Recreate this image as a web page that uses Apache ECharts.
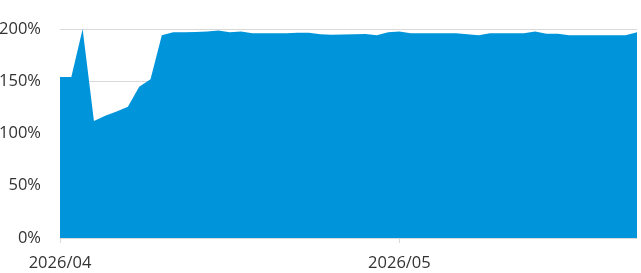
<!DOCTYPE html>
<html>
<head>
<meta charset="utf-8">
<script src="https://cdn.jsdelivr.net/npm/echarts@6/dist/echarts.min.js"></script>
<style>
    html, body { margin: 0; padding: 0; background: #fff; }
    #chart { width: 641px; height: 273px; }
</style>
</head>
<body>
<div id="chart"></div>
<script>
// 日期（4/1 ~ 5/22）
const days = [];
for (let d = 1; d <= 30; d++) days.push('2026/04/' + String(d).padStart(2, '0'));
for (let d = 1; d <= 22; d++) days.push('2026/05/' + String(d).padStart(2, '0'));

// 每日数值（%）
const values = [
    154, 154, 200, 112, 117, 121, 125.6, 144.8, 151.9, 194,
    197, 197, 197.2, 197.5, 198.5, 197, 197.5, 196, 196, 196,
    196, 196.5, 196.5, 195, 194.5, 194.8, 195, 195.2, 194, 197,
    197.5, 196, 196, 196, 196, 196, 195, 194, 196, 196,
    196, 196, 197.5, 195.5, 195.5, 194, 194, 194, 194, 194,
    194, 197
];

// 月份刻度标签
const monthTicks = ['2026/04/01', '2026/05/01'];

const chart = echarts.init(document.getElementById('chart'), null, { renderer: 'canvas' });

const textStyle = {
    fontFamily: 'Open Sans',
    fontSize: 16.5,
    color: '#333333'
};

chart.setOption({
    animation: false,
    grid: { left: 60, right: 4, top: 29, bottom: 35, outerBoundsMode: 'none' },
    xAxis: {
        type: 'category',
        data: days,
        boundaryGap: false,
        axisLine: { lineStyle: { color: '#d9d9d9' } },
        axisTick: {
            show: true,
            length: 5,
            lineStyle: { color: '#d9d9d9' },
            interval: (i, v) => monthTicks.includes(v)
        },
        axisLabel: {
            ...textStyle,
            margin: 17,
            interval: (i, v) => monthTicks.includes(v),
            formatter: v => v.slice(0, 7)
        },
        splitLine: { show: false }
    },
    yAxis: {
        type: 'value',
        min: 0,
        max: 200,
        interval: 50,
        axisLine: { show: false },
        axisTick: { show: false },
        axisLabel: { ...textStyle, margin: 19, formatter: '{value}%' },
        splitLine: { lineStyle: { color: '#d9d9d9' } }
    },
    series: [{
        type: 'line',
        data: values,
        symbol: 'none',
        lineStyle: { width: 0 },
        areaStyle: { color: '#0095DA', opacity: 1 }
    }]
});
</script>
</body>
</html>
